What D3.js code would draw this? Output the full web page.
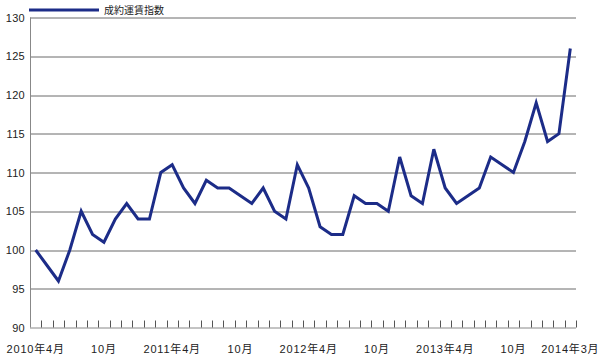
<!DOCTYPE html>
<meta charset="utf-8">
<script src="https://d3js.org/d3.v7.min.js"></script>
<style>
  body { margin: 0; background: #fff; }
  text { font-family: "Liberation Sans", "Noto Sans CJK JP", sans-serif; }
</style>
<div id="chart"></div>
<script>
// monthly index, 2010-04 .. 2014-03
const seriesName = "成約運賃指数";
const values = [100, 98, 96, 100, 105, 102, 101, 104, 106, 104, 104, 110,
                111, 108, 106, 109, 108, 108, 107, 106, 108, 105, 104, 111,
                108, 103, 102, 102, 107, 106, 106, 105, 112, 107, 106, 113,
                108, 106, 107, 108, 112, 111, 110, 114, 119, 114, 115, 126];
const xLabels = [
  {i: 0, t: "2010年4月"}, {i: 6, t: "10月"}, {i: 12, t: "2011年4月"},
  {i: 18, t: "10月"}, {i: 24, t: "2012年4月"}, {i: 30, t: "10月"},
  {i: 36, t: "2013年4月"}, {i: 42, t: "10月"}, {i: 47, t: "2014年3月"}
];
const yTicks = [90, 95, 100, 105, 110, 115, 120, 125, 130];

const W = 600, H = 361;
const margin = {top: 17.5, right: 24, bottom: 33.5, left: 30};
const width = W - margin.left - margin.right,
      height = H - margin.top - margin.bottom;

const svg = d3.select("#chart").append("svg")
    .attr("width", W).attr("height", H);
const g = svg.append("g")
    .attr("transform", `translate(${margin.left}, ${margin.top})`);

const x = d3.scaleBand()
    .domain(d3.range(values.length))
    .range([0, width]);
const y = d3.scaleLinear()
    .domain([90, 130])
    .range([height, 0]);

// grid lines
g.append("g").selectAll("line")
  .data(yTicks.filter(d => d > 90))
  .join("line")
    .attr("x1", 0).attr("x2", width)
    .attr("y1", d => Math.round(y(d)) + 0.5).attr("y2", d => Math.round(y(d)) + 0.5)
    .attr("stroke", "#6a6a6a").attr("stroke-width", 1);

// y labels
g.append("g").selectAll("text")
  .data(yTicks)
  .join("text")
    .attr("x", -5).attr("y", d => y(d) + 4)
    .attr("text-anchor", "end")
    .attr("font-size", 11).attr("letter-spacing", 0.3).attr("fill", "#222")
    .text(d => d);

// axes lines
g.append("line").attr("x1", 0.5).attr("x2", 0.5).attr("y1", 0).attr("y2", height)
  .attr("stroke", "#888");
g.append("line").attr("x1", 0).attr("x2", width).attr("y1", Math.round(height) + 0.5).attr("y2", Math.round(height) + 0.5)
  .attr("stroke", "#888");

// month ticks at band boundaries
g.append("g").selectAll("line")
  .data(d3.range(1, values.length + 1))
  .join("line")
    .attr("x1", d => Math.round(x.step() * d) + 0.5).attr("x2", d => Math.round(x.step() * d) + 0.5)
    .attr("y1", height - 7).attr("y2", height)
    .attr("stroke", "#555");

// x labels
g.append("g").selectAll("text")
  .data(xLabels)
  .join("text")
    .attr("x", d => x(d.i) + x.bandwidth() / 2)
    .attr("y", height + 25)
    .attr("text-anchor", "middle")
    .attr("font-size", 11).attr("letter-spacing", 0.8).attr("fill", "#222")
    .text(d => d.t);

// line
const line = d3.line()
    .x((d, i) => x(i) + x.bandwidth() / 2)
    .y(d => y(d));
g.append("path")
  .datum(values)
  .attr("d", line)
  .attr("fill", "none")
  .attr("stroke", "#1c2c88")
  .attr("stroke-width", 3)
  .attr("stroke-linejoin", "miter");

// legend
svg.append("line").attr("x1", 29).attr("x2", 99).attr("y1", 10).attr("y2", 10)
  .attr("stroke", "#1c2c88").attr("stroke-width", 3);
svg.append("text").attr("x", 104).attr("y", 13.5)
  .attr("font-size", 10).attr("fill", "#222")
  .text(seriesName);
</script>
